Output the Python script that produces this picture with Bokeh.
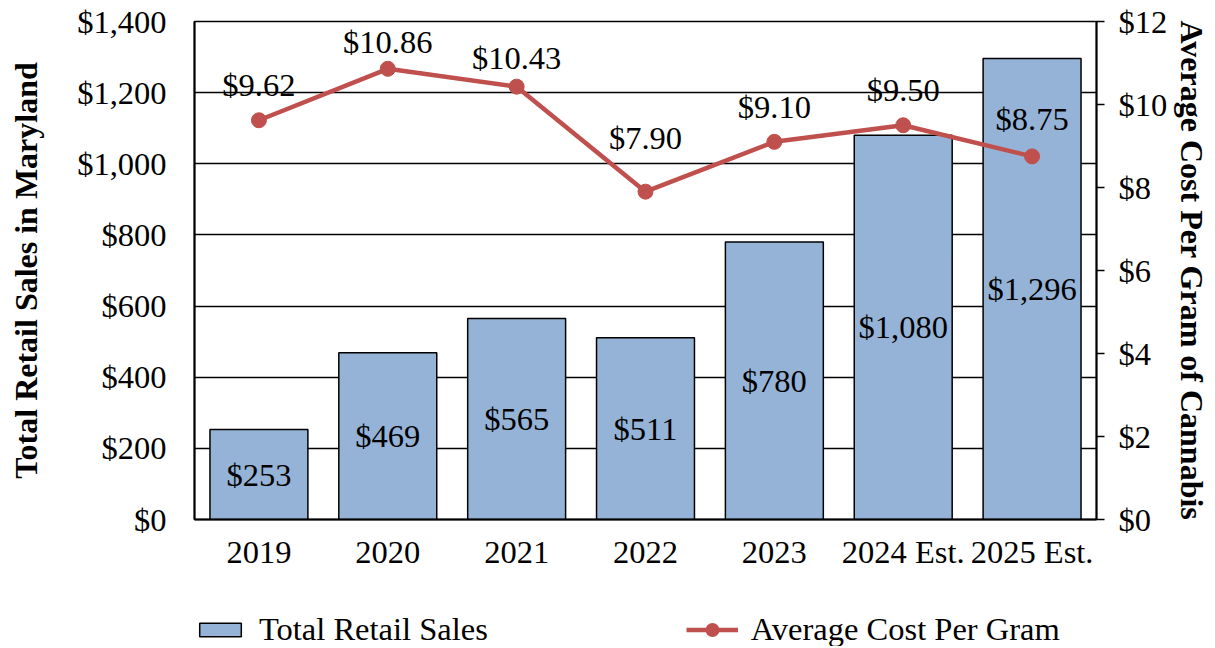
from bokeh.plotting import figure
from bokeh.layouts import column
from bokeh.models import (ColumnDataSource, Range1d, FactorRange, LinearAxis, FixedTicker,
                          NumeralTickFormatter, LabelSet, Legend, LegendItem)
from bokeh.embed import file_html
from bokeh.resources import INLINE

# ---- data ----
years = ["2019", "2020", "2021", "2022", "2023", "2024 Est.", "2025 Est."]
total_sales = [253, 469, 565, 511, 780, 1080, 1296]
avg_cost = [9.62, 10.86, 10.43, 7.90, 9.10, 9.50, 8.75]
sales_ticks = [0, 200, 400, 600, 800, 1000, 1200, 1400]
cost_ticks = [0, 2, 4, 6, 8, 10, 12]

# ---- styles ----
FONT = "Liberation Serif"
FS = "32.5px"
TFS = "32px"
BAR_FILL = "#95B3D7"
LINE_COL = "#C0504D"
cost_label_lift = [35, 27, 29, 54, 35, 35, 37]

src = ColumnDataSource(dict(
    year=years,
    sales=total_sales,
    sales_mid=[v / 2 for v in total_sales],
    sales_txt=["${:,}".format(v) for v in total_sales],
    cost=avg_cost,
    cost_txt=["${:.2f}".format(v) for v in avg_cost],
    lift=cost_label_lift,
))

xr = FactorRange(*years, range_padding=0)
p = figure(width=1215, height=580, x_range=xr,
           y_range=Range1d(0, 1400), output_backend="svg", toolbar_location=None,
           min_border_left=194, min_border_right=119, min_border_top=21, min_border_bottom=61)
p.outline_line_color = "black"
p.outline_line_width = 1.5
p.background_fill_color = "white"
p.border_fill_color = "white"
p.extra_y_ranges = {"cost": Range1d(0, 12)}

# grid
p.xgrid.grid_line_color = None
p.ygrid.grid_line_color = "black"
p.ygrid.grid_line_width = 1.5
p.ygrid.ticker = FixedTicker(ticks=sales_ticks)

# bars
bar_style = dict(fill_color=BAR_FILL, line_color="black", line_width=1.5)
bars = p.vbar(x="year", top="sales", width=0.76, source=src, **bar_style)

# line
line_style = dict(line_color=LINE_COL, line_width=4.5)
line_r = p.line(x="year", y="cost", source=src, y_range_name="cost", **line_style)
dot_r = p.scatter(x="year", y="cost", source=src, y_range_name="cost", size=15,
                  fill_color=LINE_COL, line_color=LINE_COL)

# labels
p.add_layout(LabelSet(x="year", y="sales_mid", text="sales_txt", source=src,
                      text_align="center", text_baseline="middle", text_font=FONT,
                      text_font_size=FS, text_color="black"))
p.add_layout(LabelSet(x="year", y="cost", text="cost_txt", source=src, y_range_name="cost",
                      y_offset="lift", text_align="center", text_baseline="middle",
                      text_font=FONT, text_font_size=FS, text_color="black"))

# axes
def style_axis(ax):
    ax.axis_line_color = "black"
    ax.axis_line_width = 2
    ax.major_label_text_font = FONT
    ax.major_label_text_font_size = FS
    ax.major_label_text_color = "black"
    ax.axis_label_text_font = FONT
    ax.axis_label_text_font_size = TFS
    ax.axis_label_text_font_style = "bold"
    ax.axis_label_text_color = "black"
    ax.minor_tick_line_color = None

xa = p.xaxis[0]
style_axis(xa)
xa.major_tick_line_color = None
xa.major_tick_out = 0
xa.major_label_standoff = 14

ya = p.yaxis[0]
style_axis(ya)
ya.ticker = FixedTicker(ticks=sales_ticks)
ya.formatter = NumeralTickFormatter(format="$0,0")
ya.major_tick_line_color = None
ya.major_tick_out = 0
ya.major_tick_in = 0
ya.major_label_standoff = 28
ya.axis_label = "Total Retail Sales in Maryland"
ya.axis_label_standoff = 30

ra = LinearAxis(y_range_name="cost")
style_axis(ra)
ra.ticker = FixedTicker(ticks=cost_ticks)
ra.formatter = NumeralTickFormatter(format="$0")
ra.major_tick_line_color = "black"
ra.major_tick_line_width = 1.5
ra.major_tick_out = 8
ra.major_tick_in = 0
ra.major_label_standoff = 14
ra.axis_label = "Average Cost Per Gram of Cannabis"
ra.axis_label_standoff = 4
p.add_layout(ra, "right")

# legend strip below the chart; its legend-only renderers map outside its own ranges
lg = figure(width=1215, height=66, x_range=FactorRange("legend"),
            y_range=Range1d(100000, 100001),
            output_backend="svg", toolbar_location=None, x_axis_type=None, y_axis_type=None,
            min_border=0)
lg.outline_line_color = None
lg.grid.grid_line_color = None
lg.extra_y_ranges = {"cost": Range1d(100000, 100001)}
lb = lg.vbar(x="year", top="sales", width=0.76, source=src, **bar_style)
ll = lg.line(x="year", y="cost", source=src, y_range_name="cost", **line_style)
ld = lg.scatter(x="year", y="cost", source=src, y_range_name="cost", size=7,
                fill_color=LINE_COL, line_color=LINE_COL, line_width=7)
legend = Legend(items=[LegendItem(label="Total Retail Sales", renderers=[lb]),
                       LegendItem(label="Average Cost Per Gram", renderers=[ll, ld])],
                location=(0, -2), orientation="horizontal",
                label_text_font=FONT, label_text_font_size=FS, label_text_color="black",
                glyph_width=52, glyph_height=17, label_standoff=13, spacing=198,
                padding=0, margin=0, border_line_color=None, background_fill_alpha=0)
lg.add_layout(legend)

layout = column(p, lg, spacing=0)
open("out.html", "w").write(file_html(layout, INLINE))
